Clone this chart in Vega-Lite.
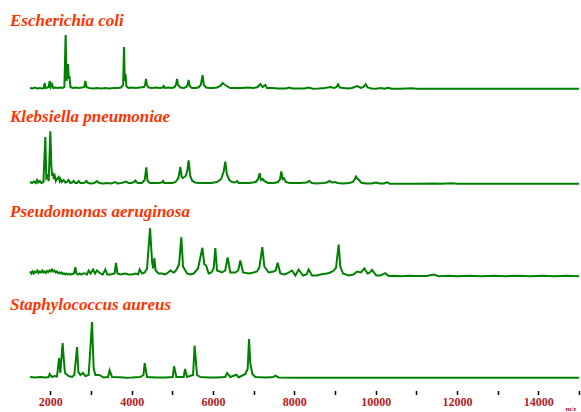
{
  "$schema": "https://vega.github.io/schema/vega-lite/v6.json",
  "background": "white",
  "padding": {"left": 10, "top": 12, "right": 0, "bottom": 0},
  "spacing": 15,
  "config": {
    "view": {"stroke": null},
    "title": {"anchor": "start", "dx": -20, "font": "Liberation Serif", "fontSize": 17, "fontStyle": "italic", "fontWeight": "bold", "color": "#ff3300", "baseline": "alphabetic", "offset": 1, "frame": "group"}
  },
  "datasets": {
    "ecoli": [
      {"mz":1500,"i":1},{"mz":1560,"i":0.5},{"mz":1620,"i":1.5},{"mz":1680,"i":0.5},{"mz":1740,"i":1},{"mz":1800,"i":0.5},{"mz":1840,"i":1},{"mz":1860,"i":6},{"mz":1885,"i":1},{"mz":1930,"i":1.5},{"mz":1960,"i":2},{"mz":1983,"i":8},{"mz":2005,"i":2},{"mz":2040,"i":5},{"mz":2070,"i":1},{"mz":2120,"i":1.5},{"mz":2180,"i":1},{"mz":2240,"i":1.5},{"mz":2300,"i":1},{"mz":2345,"i":2},{"mz":2376,"i":54},{"mz":2400,"i":8},{"mz":2435,"i":25},{"mz":2455,"i":10},{"mz":2470,"i":13},{"mz":2495,"i":2},{"mz":2550,"i":1},{"mz":2620,"i":1.5},{"mz":2700,"i":1},{"mz":2780,"i":1.5},{"mz":2835,"i":2},{"mz":2861,"i":8},{"mz":2890,"i":2},{"mz":2950,"i":1},{"mz":3050,"i":0.5},{"mz":3150,"i":1},{"mz":3250,"i":0.5},{"mz":3350,"i":1},{"mz":3450,"i":0.5},{"mz":3550,"i":1},{"mz":3650,"i":1},{"mz":3740,"i":1.5},{"mz":3790,"i":4},{"mz":3812,"i":42},{"mz":3830,"i":8},{"mz":3850,"i":15},{"mz":3870,"i":3},{"mz":3920,"i":1},{"mz":4000,"i":1.5},{"mz":4100,"i":1},{"mz":4200,"i":1.5},{"mz":4300,"i":2},{"mz":4330,"i":4},{"mz":4353,"i":10},{"mz":4375,"i":4},{"mz":4420,"i":1.5},{"mz":4500,"i":1},{"mz":4600,"i":1.5},{"mz":4700,"i":1},{"mz":4760,"i":1.5},{"mz":4787,"i":3},{"mz":4810,"i":1},{"mz":4900,"i":1.5},{"mz":5000,"i":1},{"mz":5060,"i":2},{"mz":5095,"i":5},{"mz":5116,"i":10},{"mz":5140,"i":4},{"mz":5200,"i":1.5},{"mz":5280,"i":1},{"mz":5350,"i":2},{"mz":5380,"i":5},{"mz":5401,"i":9},{"mz":5425,"i":3},{"mz":5480,"i":1},{"mz":5560,"i":1},{"mz":5640,"i":1.5},{"mz":5700,"i":4},{"mz":5745,"i":14},{"mz":5775,"i":4},{"mz":5830,"i":1.5},{"mz":5920,"i":1},{"mz":6000,"i":1},{"mz":6100,"i":1.5},{"mz":6180,"i":3},{"mz":6240,"i":6},{"mz":6262,"i":5},{"mz":6300,"i":4},{"mz":6340,"i":3},{"mz":6420,"i":1},{"mz":6550,"i":1},{"mz":6700,"i":1},{"mz":6850,"i":1.5},{"mz":7000,"i":1},{"mz":7100,"i":2},{"mz":7164,"i":5},{"mz":7220,"i":2},{"mz":7287,"i":4},{"mz":7330,"i":1},{"mz":7450,"i":1},{"mz":7600,"i":0.5},{"mz":7800,"i":0.5},{"mz":7877,"i":1.5},{"mz":7950,"i":0.5},{"mz":8100,"i":0.5},{"mz":8250,"i":0.5},{"mz":8352,"i":1.5},{"mz":8450,"i":0.3},{"mz":8600,"i":0.5},{"mz":8750,"i":1},{"mz":8885,"i":2},{"mz":8980,"i":1},{"mz":9040,"i":2},{"mz":9075,"i":4.7},{"mz":9120,"i":1.5},{"mz":9213,"i":1},{"mz":9300,"i":0.5},{"mz":9420,"i":1},{"mz":9542,"i":3},{"mz":9640,"i":1},{"mz":9700,"i":2},{"mz":9754,"i":4.7},{"mz":9800,"i":1.5},{"mz":9900,"i":0.5},{"mz":10000,"i":0.3},{"mz":10131,"i":1},{"mz":10220,"i":0.3},{"mz":10304,"i":1.3},{"mz":10400,"i":0.3},{"mz":10600,"i":0.3},{"mz":10894,"i":0.7},{"mz":11000,"i":0.3},{"mz":11500,"i":0.3},{"mz":12000,"i":0.3},{"mz":12500,"i":0.3},{"mz":13000,"i":0.3},{"mz":13500,"i":0.3},{"mz":14000,"i":0.3},{"mz":14500,"i":0.3},{"mz":15000,"i":0.3}
    ],
    "kleb": [
      {"mz":1500,"i":2},{"mz":1550,"i":1},{"mz":1600,"i":2.5},{"mz":1640,"i":1},{"mz":1673,"i":4},{"mz":1700,"i":1.5},{"mz":1740,"i":3},{"mz":1780,"i":1},{"mz":1830,"i":2},{"mz":1877,"i":47},{"mz":1900,"i":6},{"mz":1930,"i":8},{"mz":1960,"i":3},{"mz":2000,"i":52.7},{"mz":2025,"i":17.7},{"mz":2045,"i":8},{"mz":2065,"i":11},{"mz":2085,"i":5},{"mz":2110,"i":8},{"mz":2135,"i":3},{"mz":2160,"i":5},{"mz":2204,"i":7},{"mz":2230,"i":3},{"mz":2250,"i":5},{"mz":2280,"i":2},{"mz":2327,"i":4},{"mz":2370,"i":1.5},{"mz":2410,"i":2},{"mz":2450,"i":4},{"mz":2490,"i":1},{"mz":2530,"i":1.5},{"mz":2573,"i":3},{"mz":2620,"i":1},{"mz":2660,"i":1},{"mz":2696,"i":3},{"mz":2740,"i":1},{"mz":2800,"i":1},{"mz":2850,"i":1.5},{"mz":2885,"i":3},{"mz":2930,"i":1},{"mz":3000,"i":0.5},{"mz":3080,"i":1},{"mz":3148,"i":3},{"mz":3200,"i":1},{"mz":3300,"i":0.5},{"mz":3400,"i":1},{"mz":3500,"i":0.5},{"mz":3598,"i":2},{"mz":3650,"i":0.5},{"mz":3750,"i":1},{"mz":3869,"i":2.5},{"mz":3920,"i":1},{"mz":4000,"i":1},{"mz":4060,"i":2},{"mz":4090,"i":3.5},{"mz":4120,"i":2},{"mz":4150,"i":1},{"mz":4250,"i":1},{"mz":4320,"i":4},{"mz":4361,"i":16.7},{"mz":4390,"i":3},{"mz":4450,"i":1},{"mz":4550,"i":1},{"mz":4650,"i":1},{"mz":4740,"i":1.5},{"mz":4771,"i":3},{"mz":4800,"i":1},{"mz":4900,"i":1},{"mz":5000,"i":1},{"mz":5080,"i":2},{"mz":5150,"i":6},{"mz":5197,"i":17},{"mz":5230,"i":7},{"mz":5260,"i":6},{"mz":5330,"i":8},{"mz":5370,"i":14},{"mz":5401,"i":23.7},{"mz":5440,"i":8},{"mz":5490,"i":3},{"mz":5560,"i":1.5},{"mz":5650,"i":1},{"mz":5800,"i":1},{"mz":5950,"i":1},{"mz":6100,"i":2},{"mz":6200,"i":5},{"mz":6260,"i":12},{"mz":6303,"i":22.3},{"mz":6340,"i":10},{"mz":6400,"i":4},{"mz":6470,"i":2},{"mz":6540,"i":1.5},{"mz":6590,"i":3},{"mz":6630,"i":1},{"mz":6750,"i":1},{"mz":6900,"i":1},{"mz":7050,"i":2},{"mz":7110,"i":5},{"mz":7147,"i":10.7},{"mz":7180,"i":4},{"mz":7230,"i":5},{"mz":7260,"i":3},{"mz":7350,"i":1},{"mz":7500,"i":1},{"mz":7600,"i":2},{"mz":7650,"i":5},{"mz":7680,"i":12.7},{"mz":7710,"i":5},{"mz":7740,"i":6},{"mz":7790,"i":2},{"mz":7880,"i":1},{"mz":8000,"i":1},{"mz":8150,"i":1},{"mz":8300,"i":1.5},{"mz":8369,"i":3},{"mz":8430,"i":1},{"mz":8550,"i":0.5},{"mz":8700,"i":1},{"mz":8800,"i":1.5},{"mz":8868,"i":3},{"mz":8930,"i":1.5},{"mz":9008,"i":2},{"mz":9060,"i":1},{"mz":9200,"i":0.5},{"mz":9350,"i":1},{"mz":9440,"i":2},{"mz":9490,"i":5},{"mz":9516,"i":7.5},{"mz":9560,"i":5},{"mz":9590,"i":4},{"mz":9640,"i":1.5},{"mz":9750,"i":0.5},{"mz":9900,"i":0.5},{"mz":10008,"i":1.5},{"mz":10100,"i":0.5},{"mz":10200,"i":0.5},{"mz":10279,"i":1.7},{"mz":10350,"i":0.3},{"mz":10600,"i":0.3},{"mz":11000,"i":0.3},{"mz":11443,"i":0.5},{"mz":11600,"i":0.3},{"mz":11877,"i":0.7},{"mz":12000,"i":0.3},{"mz":12500,"i":0.3},{"mz":13000,"i":0.3},{"mz":13500,"i":0.3},{"mz":14000,"i":0.3},{"mz":14500,"i":0.3},{"mz":15000,"i":0.3}
    ],
    "pseudo": [
      {"mz":1500,"i":5},{"mz":1530,"i":3},{"mz":1560,"i":5},{"mz":1590,"i":3},{"mz":1620,"i":5},{"mz":1650,"i":4},{"mz":1680,"i":6},{"mz":1710,"i":3.5},{"mz":1740,"i":5},{"mz":1770,"i":4},{"mz":1800,"i":6},{"mz":1830,"i":4},{"mz":1860,"i":5},{"mz":1890,"i":3.5},{"mz":1920,"i":5.5},{"mz":1950,"i":4.5},{"mz":1980,"i":6},{"mz":2010,"i":5},{"mz":2040,"i":7},{"mz":2070,"i":5},{"mz":2100,"i":6},{"mz":2130,"i":4},{"mz":2160,"i":5},{"mz":2190,"i":3.5},{"mz":2220,"i":4},{"mz":2250,"i":3},{"mz":2280,"i":4},{"mz":2310,"i":2.5},{"mz":2340,"i":3},{"mz":2370,"i":2},{"mz":2400,"i":3},{"mz":2430,"i":2},{"mz":2470,"i":2.5},{"mz":2520,"i":2},{"mz":2580,"i":3},{"mz":2615,"i":9.3},{"mz":2640,"i":3},{"mz":2680,"i":2},{"mz":2720,"i":3},{"mz":2760,"i":2},{"mz":2800,"i":3},{"mz":2861,"i":3},{"mz":2900,"i":2},{"mz":2942,"i":6},{"mz":2990,"i":3},{"mz":3050,"i":7},{"mz":3100,"i":3},{"mz":3148,"i":6},{"mz":3230,"i":3},{"mz":3290,"i":2},{"mz":3352,"i":7},{"mz":3400,"i":2},{"mz":3475,"i":2},{"mz":3580,"i":3},{"mz":3615,"i":13.7},{"mz":3650,"i":3},{"mz":3721,"i":2},{"mz":3844,"i":3},{"mz":3920,"i":2},{"mz":4009,"i":2},{"mz":4100,"i":3},{"mz":4160,"i":2},{"mz":4196,"i":7},{"mz":4255,"i":3},{"mz":4320,"i":4},{"mz":4378,"i":8},{"mz":4452,"i":48.3},{"mz":4501,"i":15},{"mz":4530,"i":8},{"mz":4557,"i":18.3},{"mz":4590,"i":6},{"mz":4660,"i":3},{"mz":4747,"i":3},{"mz":4810,"i":2},{"mz":4870,"i":3},{"mz":4951,"i":6},{"mz":5032,"i":4},{"mz":5070,"i":5},{"mz":5116,"i":8},{"mz":5165,"i":12},{"mz":5221,"i":39.3},{"mz":5263,"i":10},{"mz":5361,"i":3},{"mz":5440,"i":2},{"mz":5524,"i":3},{"mz":5632,"i":8},{"mz":5738,"i":28.7},{"mz":5787,"i":12},{"mz":5829,"i":11},{"mz":5893,"i":3},{"mz":5960,"i":4},{"mz":6016,"i":8},{"mz":6057,"i":28.3},{"mz":6099,"i":6},{"mz":6222,"i":4},{"mz":6300,"i":6},{"mz":6360,"i":19},{"mz":6426,"i":4},{"mz":6549,"i":4},{"mz":6620,"i":6},{"mz":6672,"i":16},{"mz":6739,"i":4},{"mz":6880,"i":3},{"mz":6999,"i":4},{"mz":7080,"i":5},{"mz":7139,"i":9},{"mz":7213,"i":29.3},{"mz":7262,"i":10},{"mz":7368,"i":4},{"mz":7491,"i":5},{"mz":7540,"i":6},{"mz":7590,"i":13.7},{"mz":7656,"i":3},{"mz":7740,"i":2},{"mz":7820,"i":3},{"mz":7943,"i":6},{"mz":8025,"i":1},{"mz":8106,"i":7},{"mz":8214,"i":1},{"mz":8300,"i":2},{"mz":8352,"i":7},{"mz":8435,"i":1},{"mz":8558,"i":1},{"mz":8640,"i":2},{"mz":8721,"i":2.5},{"mz":8800,"i":3},{"mz":8885,"i":4},{"mz":8967,"i":6},{"mz":9026,"i":9},{"mz":9090,"i":32},{"mz":9131,"i":10},{"mz":9197,"i":3},{"mz":9335,"i":1},{"mz":9450,"i":2},{"mz":9542,"i":5},{"mz":9640,"i":4},{"mz":9721,"i":8},{"mz":9802,"i":3},{"mz":9860,"i":4},{"mz":9910,"i":6.7},{"mz":10016,"i":1},{"mz":10115,"i":1},{"mz":10238,"i":3.3},{"mz":10319,"i":0.5},{"mz":10450,"i":0.8},{"mz":10607,"i":0.3},{"mz":10800,"i":0.8},{"mz":11000,"i":0.4},{"mz":11250,"i":0.6},{"mz":11426,"i":2},{"mz":11549,"i":0.3},{"mz":11800,"i":0.8},{"mz":12000,"i":0.3},{"mz":12300,"i":0.8},{"mz":12600,"i":0.3},{"mz":12900,"i":0.8},{"mz":13200,"i":0.3},{"mz":13500,"i":0.8},{"mz":13800,"i":0.3},{"mz":14100,"i":0.7},{"mz":14400,"i":0.3},{"mz":14700,"i":0.7},{"mz":15000,"i":0.3}
    ],
    "staph": [
      {"mz":1500,"i":1},{"mz":1620,"i":0.5},{"mz":1754,"i":1},{"mz":1880,"i":0.5},{"mz":1960,"i":1},{"mz":1983,"i":4},{"mz":2042,"i":1},{"mz":2106,"i":2},{"mz":2165,"i":1.5},{"mz":2214,"i":20},{"mz":2246,"i":5},{"mz":2302,"i":35},{"mz":2327,"i":20.7},{"mz":2361,"i":5},{"mz":2450,"i":2},{"mz":2534,"i":1},{"mz":2590,"i":3},{"mz":2657,"i":31},{"mz":2689,"i":6},{"mz":2738,"i":3},{"mz":2804,"i":5},{"mz":2861,"i":2},{"mz":2942,"i":3},{"mz":3025,"i":56},{"mz":3065,"i":10},{"mz":3107,"i":3},{"mz":3205,"i":3},{"mz":3311,"i":0.5},{"mz":3420,"i":1},{"mz":3458,"i":7.7},{"mz":3517,"i":1},{"mz":3721,"i":0.7},{"mz":3860,"i":0.3},{"mz":4009,"i":0.5},{"mz":4213,"i":1},{"mz":4290,"i":3},{"mz":4319,"i":15},{"mz":4378,"i":1},{"mz":4600,"i":0.4},{"mz":4828,"i":0.5},{"mz":5010,"i":1},{"mz":5042,"i":11.7},{"mz":5098,"i":1},{"mz":5280,"i":1},{"mz":5312,"i":9},{"mz":5361,"i":1},{"mz":5510,"i":3},{"mz":5548,"i":32.3},{"mz":5607,"i":3},{"mz":5689,"i":1},{"mz":5893,"i":0.5},{"mz":6100,"i":0.5},{"mz":6300,"i":1},{"mz":6345,"i":5},{"mz":6426,"i":1},{"mz":6574,"i":3.3},{"mz":6630,"i":0.5},{"mz":6795,"i":4},{"mz":6852,"i":9},{"mz":6886,"i":39},{"mz":6918,"i":14},{"mz":6967,"i":4},{"mz":7041,"i":1},{"mz":7300,"i":0.5},{"mz":7480,"i":1},{"mz":7533,"i":2.3},{"mz":7614,"i":0.5},{"mz":8000,"i":0.3},{"mz":9000,"i":0.3},{"mz":10000,"i":0.3},{"mz":11000,"i":0.3},{"mz":12000,"i":0.3},{"mz":13000,"i":0.3},{"mz":14000,"i":0.3},{"mz":15000,"i":0.3}
    ]
  },
  "vconcat": [
    {
      "title": {"text": "Escherichia coli"},
      "data": {"name": "ecoli"},
      "width": 549, "height": 57,
      "mark": {"type": "line", "color": "#008000", "strokeWidth": 2},
      "encoding": {
        "x": {"field": "mz", "type": "quantitative", "scale": {"domain": [1500, 15000], "nice": false, "zero": false}, "axis": null},
        "y": {"field": "i", "type": "quantitative", "scale": {"domain": [0, 57]}, "axis": null}
      }
    },
    {
      "title": {"text": "Klebsiella pneumoniae"},
      "data": {"name": "kleb"},
      "width": 549, "height": 57,
      "mark": {"type": "line", "color": "#008000", "strokeWidth": 2},
      "encoding": {
        "x": {"field": "mz", "type": "quantitative", "scale": {"domain": [1500, 15000], "nice": false, "zero": false}, "axis": null},
        "y": {"field": "i", "type": "quantitative", "scale": {"domain": [0, 57]}, "axis": null}
      }
    },
    {
      "title": {"text": "Pseudomonas aeruginosa"},
      "data": {"name": "pseudo"},
      "width": 549, "height": 54.5,
      "mark": {"type": "line", "color": "#008000", "strokeWidth": 2},
      "encoding": {
        "x": {"field": "mz", "type": "quantitative", "scale": {"domain": [1500, 15000], "nice": false, "zero": false}, "axis": null},
        "y": {"field": "i", "type": "quantitative", "scale": {"domain": [0, 54.5]}, "axis": null}
      }
    },
    {
      "title": {"text": "Staphylococcus aureus"},
      "data": {"name": "staph"},
      "width": 549, "height": 63,
      "mark": {"type": "line", "color": "#008000", "strokeWidth": 2},
      "encoding": {
        "x": {
          "field": "mz", "type": "quantitative",
          "scale": {"domain": [1500, 15000], "nice": false, "zero": false},
          "axis": {
            "values": [2000, 3000, 4000, 5000, 6000, 7000, 8000, 9000, 10000, 11000, 12000, 13000, 14000, 15000],
            "format": "d",
            "labelExpr": "datum.value % 2000 === 0 && datum.value < 15000 ? datum.label : ''",
            "labelOverlap": false,
            "labelFlush": false,
            "domain": false, "grid": false,
            "ticks": true, "tickColor": "#000000", "tickSize": 4, "tickWidth": 1.5,
            "offset": 12.5,
            "labelPadding": 2,
            "labelFont": "Liberation Serif", "labelFontWeight": "bold", "labelFontSize": 12, "labelColor": "#b22222",
            "title": "m/z",
            "titleFont": "Liberation Serif", "titleFontSize": 7, "titleFontWeight": "bold", "titleColor": "#b22222",
            "titleAnchor": "end", "titleAlign": "left", "titleBaseline": "top", "titleX": 535, "titleY": 14
          }
        },
        "y": {"field": "i", "type": "quantitative", "scale": {"domain": [0, 63]}, "axis": null}
      }
    }
  ]
}
